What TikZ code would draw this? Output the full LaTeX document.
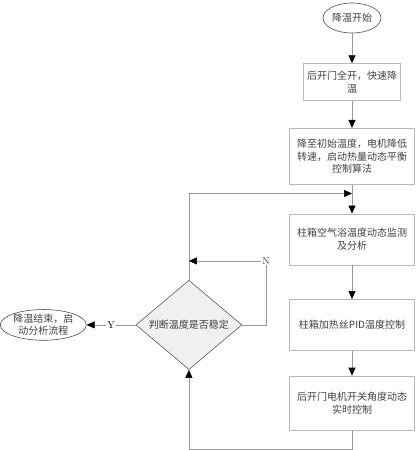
\documentclass[tikz,border=0pt]{standalone}
\usepackage{fontspec}
\newfontfamily\cjk{Noto Sans CJK SC}
\usetikzlibrary{calc}
\usetikzlibrary{positioning}
\usetikzlibrary{shapes.geometric}
\usetikzlibrary{arrows.meta}

\begin{document}
\begin{tikzpicture}[>={Triangle[length=8pt,width=7pt,color=black]},->,node distance=28pt,
  line width=0.6pt,draw=gray!80,
  every node/.style={font=\cjk\fontsize{10}{12.5}\selectfont,text=black!75},
  flow box/.style={rectangle,draw=gray!55,align=center,
  minimum width=125pt,inner sep=2pt},
  term node/.style={ellipse,draw=black!70,align=center,inner sep=0pt},
  decision/.style={diamond,draw=black!65,fill=gray!12,
  minimum width=106pt,minimum height=66pt,inner sep=0pt},
  lbl/.style={fill=white,inner sep=1pt}]
  \useasboundingbox (0,0) rectangle (417pt,-450pt);

  \node[term node,minimum width=58pt,minimum height=30pt] (start) at (352pt,-18pt) {降温开始};
  \node[flow box,minimum width=97pt,minimum height=37pt] (b1)[below=30pt of start] {后开门全开，快速降\\温};
  \node[flow box,minimum height=56pt] (b2)[below=27pt of b1] {降至初始温度，电机降低\\转速，启动热量动态平衡\\控制算法};
  \node[flow box,minimum height=51pt] (b3)[below=29pt of b2] {柱箱空气浴温度动态监测\\及分析};
  \node[flow box,minimum height=51pt] (b4)[below=34pt of b3] {柱箱加热丝PID温度控制};
  \node[flow box,minimum height=54pt] (b5)[below=25pt of b4] {后开门电机开关角度动态\\实时控制};
  \node[decision] (judge)[left=47pt of b4] {判断温度是否稳定};
  \node[term node,minimum width=86pt,minimum height=30pt] (stop)[left=49pt of judge] {降温结束，启\\动分析流程};

  % loop points
  \coordinate (join) at ($(b2.south)!0.31!(b3.north)$);
  \coordinate (nback) at ($(judge.north)+(0,19pt)$);

  \path[every node/.style={font=\rmfamily\fontsize{10}{12}\selectfont,
  		fill=white,inner sep=1pt}]
  	(start) edge (b1)
  	(b1) edge (b2)
  	(b2) edge (b3)
  	(b3) edge (b4)
  	(b4) edge (b5)
  	(judge) edge node {Y} (stop);

  \draw (b5.south) -- ++(0,-19pt) -| (judge.south);
  \draw (judge.north) |- (join);
  \draw (judge.east) -- ++(24pt,0) |- node[lbl,font=\rmfamily\fontsize{10}{12}\selectfont] {N} (nback);
\end{tikzpicture}
\end{document}
